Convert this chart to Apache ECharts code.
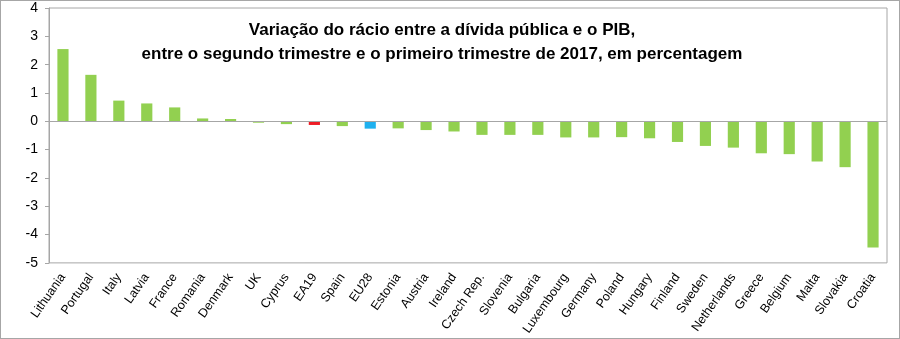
<!DOCTYPE html>
<html><head><meta charset="utf-8">
<script src="https://cdn.jsdelivr.net/npm/echarts@6/dist/echarts.min.js"></script>
<style>html,body{margin:0;padding:0;background:#fff}#c{width:900px;height:339px;box-sizing:border-box;border:1px solid #a6a6a6}</style>
</head><body><div id="c"></div>
<script>
const categories = ["Lithuania","Portugal","Italy","Latvia","France","Romania","Denmark","UK","Cyprus","EA19","Spain","EU28","Estonia","Austria","Ireland","Czech Rep.","Slovenia","Bulgaria","Luxembourg","Germany","Poland","Hungary","Finland","Sweden","Netherlands","Greece","Belgium","Malta","Slovakia","Croatia"];
const values = [2.55,1.64,0.73,0.63,0.49,0.1,0.08,-0.05,-0.1,-0.13,-0.17,-0.26,-0.25,-0.31,-0.36,-0.48,-0.48,-0.48,-0.57,-0.57,-0.56,-0.6,-0.73,-0.87,-0.93,-1.13,-1.16,-1.42,-1.62,-4.46];
const highlight = {"EA19":"#ee1c25","EU28":"#1fb1ef"};
const titleLines = ["Variação do rácio entre a dívida pública e o PIB,","entre o segundo trimestre e o primeiro trimestre de 2017, em percentagem"];
const yTicks = {min:-5,max:4,interval:1};

const chart = echarts.init(document.getElementById('c'), null, {renderer:'canvas'});
chart.setOption({
  animation:false,
  title:{text:titleLines.join('\n'),left:436,top:12,textAlign:'center',
    textStyle:{fontFamily:'Liberation Sans, Arial, sans-serif',fontWeight:'bold',fontSize:17,lineHeight:24,color:'#000'}},
  grid:{left:48,right:12,top:6,bottom:75,show:true,borderColor:'#a6a6a6',borderWidth:1,backgroundColor:'#fff'},
  xAxis:[{type:'category',data:categories,position:'bottom',
    axisLine:{show:false,onZero:false},axisTick:{show:false},
    axisLabel:{rotate:55,interval:0,fontFamily:'Liberation Sans, Arial, sans-serif',fontSize:12.5,color:'#000',margin:12}}],
  yAxis:{type:'value',min:yTicks.min,max:yTicks.max,interval:yTicks.interval,
    splitLine:{show:false},
    axisLine:{show:true,lineStyle:{color:'#a6a6a6',width:1}},
    axisTick:{show:true,length:4,lineStyle:{color:'#a6a6a6'}},
    axisLabel:{fontFamily:'Liberation Sans, Arial, sans-serif',fontSize:14,color:'#000',margin:11}},
  series:[{type:'bar',barWidth:'40%',
    data:values.map((v,i)=>({value:v,itemStyle:{color:highlight[categories[i]]||'#92d050'}})),
    markLine:{silent:true,symbol:'none',label:{show:false},lineStyle:{color:'#a6a6a6',width:1,type:'solid'},data:[{yAxis:0}]}
  }]
});
</script></body></html>
